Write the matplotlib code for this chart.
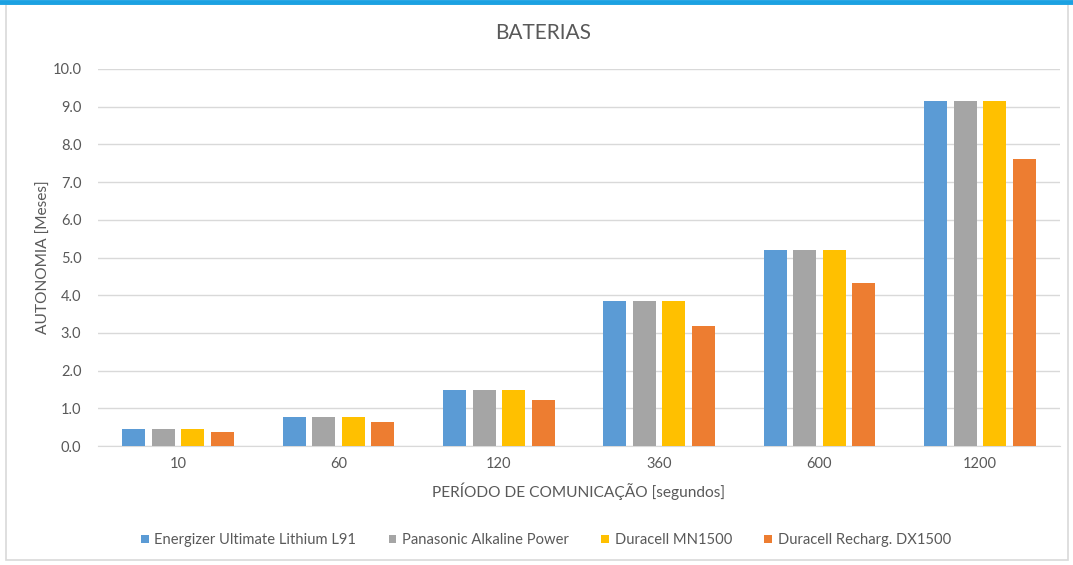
import matplotlib
matplotlib.use("Agg")
import matplotlib.pyplot as plt
import numpy as np
from matplotlib.patches import Rectangle
from matplotlib.lines import Line2D

plt.rcParams['font.family'] = ['Lato', 'DejaVu Sans']

periods = ['10', '60', '120', '360', '600', '1200']
series_names = ['Energizer Ultimate Lithium L91', 'Panasonic Alkaline Power',
                'Duracell MN1500', 'Duracell Recharg. DX1500']
energizer = [0.45, 0.77, 1.49, 3.85, 5.20, 9.15]
panasonic = [0.45, 0.77, 1.49, 3.85, 5.20, 9.15]
duracell = [0.45, 0.77, 1.49, 3.85, 5.20, 9.15]
duracell_recharg = [0.37, 0.64, 1.22, 3.18, 4.32, 7.61]
colors = ['#5b9bd5', '#a5a5a5', '#ffc000', '#ed7d31']
y_ticks = [0.0, 1.0, 2.0, 3.0, 4.0, 5.0, 6.0, 7.0, 8.0, 9.0, 10.0]

W, H = 1073, 565
fig = plt.figure(figsize=(W / 100, H / 100), dpi=100)
fig.patch.set_facecolor('white')

# chart frame and top accent line
fig.add_artist(Rectangle((6 / W, 1 - 560 / H), (1068 - 6) / W, (560 - 4) / H,
                         transform=fig.transFigure, fill=False,
                         edgecolor='#d9d9d9', linewidth=1.2))
fig.add_artist(Line2D([0, 1], [1 - 2 / H, 1 - 2 / H], transform=fig.transFigure,
                      color='#1ba1e2', linewidth=3.5))

ax = fig.add_axes([98 / W, 1 - 446 / H, (1060 - 98) / W, (446 - 69) / H])

x = np.arange(len(periods))
width = 0.143
step = 0.184
all_series = [energizer, panasonic, duracell, duracell_recharg]
for i, (vals, name, c) in enumerate(zip(all_series, series_names, colors)):
    offs = (i - 1.5) * step
    ax.bar(x + offs, vals, width, color=c, label=name, zorder=3)

ax.set_xlim(-0.5, len(periods) - 0.5)
ax.set_ylim(0, 10)
ax.set_yticks(y_ticks)
ax.set_yticklabels([f'{v:.1f}' for v in y_ticks])
ax.set_xticks(x)
ax.set_xticklabels(periods)
ax.grid(axis='y', color='#d9d9d9', linewidth=1, zorder=0)
for s in ['top', 'right', 'left']:
    ax.spines[s].set_visible(False)
ax.spines['bottom'].set_color('#d9d9d9')
ax.tick_params(axis='both', length=0, colors='#595959', labelsize=10.5)
ax.tick_params(axis='y', pad=12)
ax.tick_params(axis='x', pad=8)

fig.text(543 / W, 1 - 33 / H, 'BATERIAS', fontsize=15, color='#595959',
         ha='center', va='center')
ax.set_xlabel('PERÍODO DE COMUNICAÇÃO [segundos]', fontsize=11.2, color='#595959', labelpad=8)
ax.set_ylabel('AUTONOMIA [Meses]', fontsize=11.2, color='#595959', labelpad=1)

leg = fig.legend(loc='center', bbox_to_anchor=(546 / W, 1 - 540 / H), ncol=4,
                 frameon=False, fontsize=10.6, handlelength=0.5, handleheight=0.5,
                 handletextpad=0.4, columnspacing=2.2)
for t in leg.get_texts():
    t.set_color('#595959')

fig.savefig('out.png', dpi=100, facecolor='white')
